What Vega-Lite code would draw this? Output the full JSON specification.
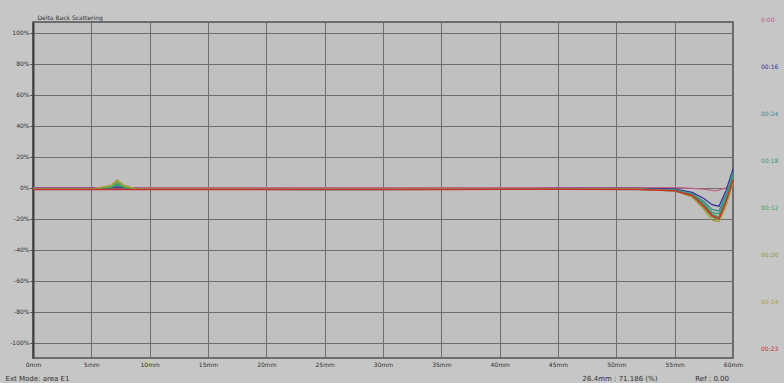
{
  "$schema": "https://vega.github.io/schema/vega-lite/v6.json",
  "width": 700,
  "height": 336,
  "autosize": {"type": "none"},
  "padding": {"left": 33, "top": 22, "right": 51, "bottom": 25},
  "background": "#c6c6c6",
  "config": {
    "view": {"fill": "#c0c0c0", "stroke": "#505050", "strokeWidth": 1.5},
    "font": "DejaVu Sans",
    "axis": {"labelFontSize": 6, "labelColor": "#303030", "gridColor": "#6e6e6e", "gridOpacity": 1, "gridWidth": 1}
  },
  "title": {"text": "26.4mm : 71.186 (%)\u00a0\u00a0\u00a0\u00a0\u00a0\u00a0\u00a0\u00a0\u00a0\u00a0\u00a0\u00a0\u00a0\u00a0\u00a0\u00a0\u00a0Ref : 0.00", "orient": "bottom", "anchor": "end", "fontSize": 7, "fontWeight": "normal", "color": "#303030", "offset": 0, "dy": -6, "dx": -50},
  "data": {"values": [
    {"s":"0:00","x":0,"y":0},{"s":"0:00","x":5,"y":0},{"s":"0:00","x":7.2,"y":0},{"s":"0:00","x":9,"y":0},{"s":"0:00","x":25,"y":0},{"s":"0:00","x":45,"y":0},{"s":"0:00","x":55.5,"y":0},{"s":"0:00","x":57.5,"y":-1},{"s":"0:00","x":58.5,"y":-2},{"s":"0:00","x":60,"y":1},
    {"s":"00:16","x":0,"y":-0.5},{"s":"00:16","x":5,"y":-0.5},{"s":"00:16","x":6.7,"y":0},{"s":"00:16","x":7.2,"y":0.5},{"s":"00:16","x":7.8,"y":0},{"s":"00:16","x":9,"y":-0.5},{"s":"00:16","x":15,"y":-0.8},{"s":"00:16","x":25,"y":-1},{"s":"00:16","x":35,"y":-1},{"s":"00:16","x":45,"y":-0.5},{"s":"00:16","x":52,"y":-0.5},{"s":"00:16","x":55,"y":-1},{"s":"00:16","x":56.5,"y":-3},{"s":"00:16","x":57.5,"y":-7},{"s":"00:16","x":58.2,"y":-11},{"s":"00:16","x":58.8,"y":-12},{"s":"00:16","x":59.4,"y":-2},{"s":"00:16","x":60,"y":12},
    {"s":"00:24","x":0,"y":-1},{"s":"00:24","x":5,"y":-1},{"s":"00:24","x":6.7,"y":0},{"s":"00:24","x":7.2,"y":2},{"s":"00:24","x":7.8,"y":0},{"s":"00:24","x":9,"y":-1},{"s":"00:24","x":15,"y":-1},{"s":"00:24","x":25,"y":-1.2},{"s":"00:24","x":35,"y":-1},{"s":"00:24","x":45,"y":-1},{"s":"00:24","x":52,"y":-1},{"s":"00:24","x":55,"y":-1.5},{"s":"00:24","x":56.5,"y":-4},{"s":"00:24","x":57.5,"y":-9},{"s":"00:24","x":58.2,"y":-14},{"s":"00:24","x":58.8,"y":-15},{"s":"00:24","x":59.4,"y":-4},{"s":"00:24","x":60,"y":10},
    {"s":"00:18","x":0,"y":-1},{"s":"00:18","x":5,"y":-1},{"s":"00:18","x":6.7,"y":0.5},{"s":"00:18","x":7.2,"y":3},{"s":"00:18","x":7.8,"y":0.5},{"s":"00:18","x":9,"y":-1},{"s":"00:18","x":15,"y":-1},{"s":"00:18","x":25,"y":-1.2},{"s":"00:18","x":35,"y":-1},{"s":"00:18","x":45,"y":-1},{"s":"00:18","x":52,"y":-1},{"s":"00:18","x":55,"y":-1.5},{"s":"00:18","x":56.5,"y":-4},{"s":"00:18","x":57.5,"y":-10},{"s":"00:18","x":58.2,"y":-16},{"s":"00:18","x":58.8,"y":-17},{"s":"00:18","x":59.4,"y":-6},{"s":"00:18","x":60,"y":8},
    {"s":"00:12","x":0,"y":-1},{"s":"00:12","x":5,"y":-1},{"s":"00:12","x":6.7,"y":0},{"s":"00:12","x":7.2,"y":2},{"s":"00:12","x":7.8,"y":0},{"s":"00:12","x":9,"y":-1},{"s":"00:12","x":15,"y":-1},{"s":"00:12","x":25,"y":-1},{"s":"00:12","x":35,"y":-1},{"s":"00:12","x":45,"y":-1},{"s":"00:12","x":52,"y":-1},{"s":"00:12","x":55,"y":-2},{"s":"00:12","x":56.5,"y":-5},{"s":"00:12","x":57.5,"y":-11},{"s":"00:12","x":58.2,"y":-17},{"s":"00:12","x":58.8,"y":-19},{"s":"00:12","x":59.4,"y":-8},{"s":"00:12","x":60,"y":6},
    {"s":"00:20","x":0,"y":-1},{"s":"00:20","x":5,"y":-1},{"s":"00:20","x":6.7,"y":1},{"s":"00:20","x":7.2,"y":4},{"s":"00:20","x":7.8,"y":1},{"s":"00:20","x":9,"y":-1},{"s":"00:20","x":15,"y":-1},{"s":"00:20","x":25,"y":-1},{"s":"00:20","x":35,"y":-1},{"s":"00:20","x":45,"y":-1},{"s":"00:20","x":52,"y":-1},{"s":"00:20","x":55,"y":-2},{"s":"00:20","x":56.5,"y":-6},{"s":"00:20","x":57.5,"y":-13},{"s":"00:20","x":58.2,"y":-19},{"s":"00:20","x":58.8,"y":-21},{"s":"00:20","x":59.4,"y":-10},{"s":"00:20","x":60,"y":4},
    {"s":"00:14","x":0,"y":-1},{"s":"00:14","x":5,"y":-1},{"s":"00:14","x":6.7,"y":1.5},{"s":"00:14","x":7.2,"y":5},{"s":"00:14","x":7.8,"y":1.5},{"s":"00:14","x":9,"y":-1},{"s":"00:14","x":15,"y":-1},{"s":"00:14","x":25,"y":-1},{"s":"00:14","x":35,"y":-1},{"s":"00:14","x":45,"y":-1},{"s":"00:14","x":52,"y":-1},{"s":"00:14","x":55,"y":-2},{"s":"00:14","x":56.5,"y":-6},{"s":"00:14","x":57.5,"y":-14},{"s":"00:14","x":58.2,"y":-21},{"s":"00:14","x":58.8,"y":-22},{"s":"00:14","x":59.4,"y":-12},{"s":"00:14","x":60,"y":3},
    {"s":"00:23","x":0,"y":-1.2},{"s":"00:23","x":5,"y":-1.2},{"s":"00:23","x":9,"y":-1.2},{"s":"00:23","x":15,"y":-1.2},{"s":"00:23","x":25,"y":-1.2},{"s":"00:23","x":35,"y":-1.2},{"s":"00:23","x":45,"y":-1},{"s":"00:23","x":52,"y":-1.2},{"s":"00:23","x":55,"y":-2},{"s":"00:23","x":56.5,"y":-5},{"s":"00:23","x":57.5,"y":-12},{"s":"00:23","x":58.2,"y":-18},{"s":"00:23","x":58.8,"y":-20},{"s":"00:23","x":59.4,"y":-9},{"s":"00:23","x":60,"y":5}
  ]},
  "encoding": {
    "x": {"field": "x", "type": "quantitative", "scale": {"domain": [0, 60], "nice": false},
      "axis": {"values": [0,5,10,15,20,25,30,35,40,45,50,55,60], "labelExpr": "datum.value + 'mm'", "ticks": false, "domain": false, "labelPadding": 3, "labelFlush": false,
        "title": "Ext Mode: area E1", "titleFontSize": 7, "titleFontWeight": "normal", "titleColor": "#303030", "titleAnchor": "start", "titleAlign": "left", "titleX": -28, "titleY": 20, "titleBaseline": "middle"}},
    "y": {"field": "y", "type": "quantitative", "scale": {"domain": [-110, 107], "nice": false, "zero": false},
      "axis": {"values": [-100,-80,-60,-40,-20,0,20,40,60,80,100], "labelExpr": "datum.value + '%'", "tickSize": 3, "tickColor": "#404040", "domainColor": "#404040", "domainWidth": 2, "labelPadding": 1,
        "title": "Delta Back Scattering", "titleFontSize": 6, "titleFontWeight": "normal", "titleColor": "#303030", "titleAngle": 0, "titleAlign": "left", "titleBaseline": "bottom", "titleX": 4, "titleY": -2}},
    "color": {"field": "s", "type": "nominal",
      "scale": {"domain": ["0:00","00:16","00:24","00:18","00:12","00:20","00:14","00:23"],
                "range": ["#c0608a","#30309a","#3a8a8a","#3a9a7a","#3aa060","#80a040","#a8a040","#c83030"]},
      "legend": {"orient": "none", "legendX": 722, "legendY": -5, "title": null, "symbolOpacity": 0, "symbolSize": 0, "labelFontSize": 6, "rowPadding": 41, "labelOffset": 0, "direction": "vertical",
        "encode": {"labels": {"update": {"fill": {"scale": "color", "field": "value"}}}}}}
  },
  "layer": [
    {"transform": [{"filter": "datum.s != '00:23'"}], "mark": {"type": "line", "strokeWidth": 1.3}},
    {"transform": [{"filter": "datum.s == '00:23'"}], "mark": {"type": "line", "strokeWidth": 1.5}}
  ]
}
